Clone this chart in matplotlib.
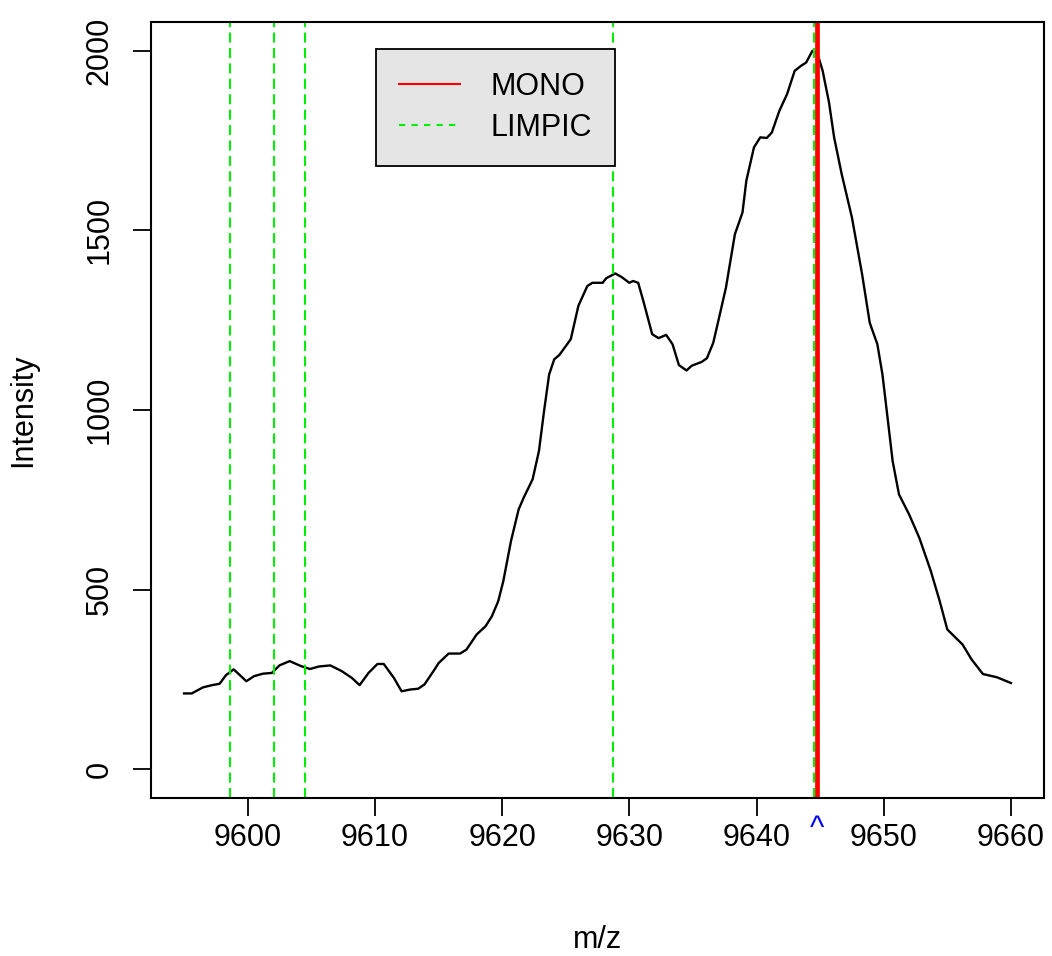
import matplotlib
matplotlib.use("Agg")
import matplotlib.pyplot as plt
from matplotlib.lines import Line2D
from matplotlib.transforms import blended_transform_factory

plt.rcParams["font.family"] = ["Liberation Sans", "DejaVu Sans"]

# spectrum
mz = [9595.0, 9595.6, 9596.5, 9597.2, 9597.8, 9598.3, 9598.9, 9599.9, 9600.5,
      9601.2, 9601.9, 9602.5, 9603.3, 9604.2, 9604.9, 9605.6, 9606.5, 9607.4,
      9608.2, 9608.8, 9609.5, 9610.2, 9610.7, 9611.5, 9612.1, 9612.8, 9613.4,
      9613.9, 9614.7, 9615.0, 9615.8, 9616.7, 9617.2, 9618.0, 9618.7, 9619.2,
      9619.7, 9620.1, 9620.7, 9621.3, 9621.7, 9622.4, 9622.9, 9623.3, 9623.7,
      9624.1, 9624.5, 9625.4, 9626.0, 9626.7, 9627.1, 9627.9, 9628.2, 9628.9,
      9629.4, 9630.0, 9630.3, 9630.7, 9631.1, 9631.8, 9632.3, 9632.9, 9633.4,
      9633.9, 9634.5, 9634.9, 9635.7, 9636.1, 9636.6, 9637.0, 9637.6, 9638.3,
      9638.9, 9639.2, 9639.8, 9640.3, 9640.8, 9641.2, 9641.8, 9642.4, 9643.0,
      9643.5, 9643.9, 9644.4, 9644.8, 9645.2, 9645.7, 9646.1, 9646.7, 9647.5,
      9648.3, 9648.9, 9649.5, 9649.9, 9650.3, 9650.7, 9651.2, 9652.0, 9652.8,
      9653.7, 9654.4, 9655.0, 9656.2, 9656.9, 9657.8, 9658.9, 9660.0]
intensity = [211, 211, 228, 234, 238, 262, 278, 245, 259,
             266, 268, 289, 301, 287, 279, 286, 289, 273,
             254, 234, 268, 293, 293, 254, 217, 222, 224,
             236, 278, 295, 322, 322, 333, 375, 398, 426,
             468, 524, 635, 723, 756, 807, 886, 997, 1099,
             1141, 1153, 1197, 1290, 1345, 1354, 1354, 1367, 1380,
             1370, 1354, 1359, 1354, 1304, 1211, 1200, 1209, 1183,
             1125, 1110, 1123, 1134, 1144, 1187, 1248, 1341, 1489,
             1550, 1638, 1731, 1759, 1757, 1772, 1833, 1879, 1944,
             1958, 1967, 2000, 1991, 1944, 1856, 1759, 1656, 1536,
             1378, 1243, 1183, 1099, 979, 858, 765, 709, 644,
             552, 468, 389, 347, 306, 265, 256, 240]

mono = [9644.72]
limpic = [9598.6, 9602.1, 9604.5, 9628.7, 9644.52]

fig = plt.figure(figsize=(10.52, 9.56), dpi=100)
ax = fig.add_axes([0.1435, 0.1653, 0.8489, 0.8117])

ax.plot(mz, intensity, c="black", lw=1.7)
for x in limpic:
    ax.axvline(x, c="#00ee00", lw=1.5, ls=(0, (4.8, 2.6)))
for x in mono:
    ax.axvline(x, c="red", lw=3.4)

ax.set_xlim(9592.4, 9662.6)
ax.set_ylim(-80, 2080)
ax.set_xticks([9600, 9610, 9620, 9630, 9640, 9650, 9660])
ax.set_yticks([0, 500, 1000, 1500, 2000])
ax.tick_params(labelsize=22, length=13, width=1.3)
ax.tick_params(axis="x", pad=5)
ax.tick_params(axis="y", pad=13)
for lab in ax.get_yticklabels():
    lab.set_rotation(90)
    lab.set_va("center")
for s in ax.spines.values():
    s.set_linewidth(1.5)

ax.set_xlabel("m/z", fontsize=22, labelpad=52)
ax.set_ylabel("Intensity", fontsize=22, labelpad=34)

tr = blended_transform_factory(ax.transData, ax.transAxes)
for x in mono:
    ax.text(x, -0.04, "^", color="blue", fontsize=22, ha="center", va="center",
            transform=tr, clip_on=False)

handles = [Line2D([], [], c="red", lw=1.5),
           Line2D([], [], c="#00ee00", lw=1.5, ls=(0, (3, 3)))]
leg = fig.legend(handles, ["MONO", "LIMPIC"], loc="upper left",
                 bbox_to_anchor=(376 / 1052, 1 - 49 / 956), fontsize=22,
                 frameon=True, fancybox=False, handlelength=2.0,
                 handletextpad=1.0, borderpad=0.75, labelspacing=0.35,
                 borderaxespad=0)
leg.get_frame().set_facecolor("#e5e5e5")
leg.get_frame().set_edgecolor("black")
leg.get_frame().set_linewidth(1.3)
leg.get_frame().set_alpha(1)

fig.savefig("out.png", dpi=100)
